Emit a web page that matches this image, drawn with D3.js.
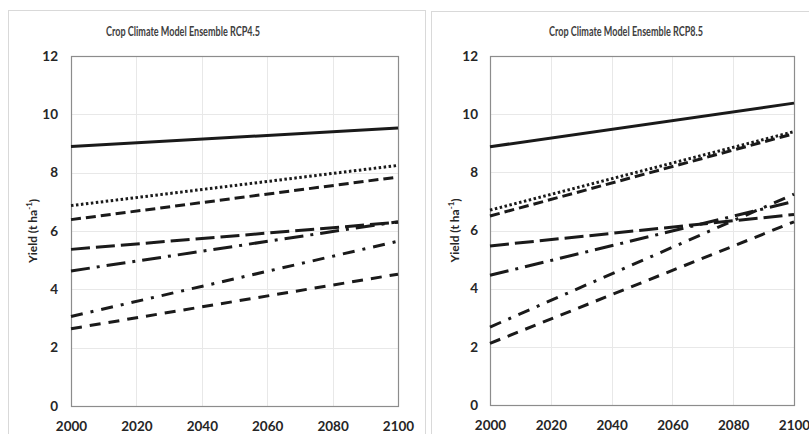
<!DOCTYPE html>
<html>
<head>
<meta charset="utf-8">
<script src="https://cdn.jsdelivr.net/npm/d3@7"></script>
<style>
  html, body { margin: 0; padding: 0; background: #fff; }
  svg { display: block; }
</style>
</head>
<body>
<svg id="chart" width="809" height="434"></svg>
<script>
// ---- data ----
const years = [2000, 2100];
const xTicks = [2000, 2020, 2040, 2060, 2080, 2100];
const yTicks = [0, 2, 4, 6, 8, 10, 12];
const titles = ["Crop Climate Model Ensemble RCP4.5", "Crop Climate Model Ensemble RCP8.5"];
const yLabel = "Yield (t ha";
const seriesStyles = ["solid", "dotted", "dashed", "longdash", "longdashdot", "dashdot", "shortdash"];
// RCP4.5 start / end yields (t/ha)
const rcp45_solid       = [8.9, 9.53];
const rcp45_dotted      = [6.87, 8.25];
const rcp45_dashed      = [6.39, 7.85];
const rcp45_longdash    = [5.37, 6.3];
const rcp45_longdashdot = [4.63, 6.32];
const rcp45_dashdot     = [3.07, 5.65];
const rcp45_shortdash   = [2.65, 4.52];
// RCP8.5 start / end yields (t/ha)
const rcp85_solid       = [8.88, 10.38];
const rcp85_dotted      = [6.7, 9.4];
const rcp85_dashed      = [6.5, 9.33];
const rcp85_longdash    = [5.47, 6.55];
const rcp85_longdashdot = [4.46, 7.0];
const rcp85_dashdot     = [2.68, 7.25];
const rcp85_shortdash   = [2.12, 6.3];

const panelsData = [
  [rcp45_solid, rcp45_dotted, rcp45_dashed, rcp45_longdash, rcp45_longdashdot, rcp45_dashdot, rcp45_shortdash],
  [rcp85_solid, rcp85_dotted, rcp85_dashed, rcp85_longdash, rcp85_longdashdot, rcp85_dashdot, rcp85_shortdash]
];

// ---- styles ----
const dashMap = {
  solid: null,
  dotted: "2.5 2.5",
  dashed: "10 5",
  longdash: "19 6",
  longdashdot: "19 7 3 7",
  dashdot: "12 8 3 8",
  shortdash: "11 8"
};
const layout = [
  { box: [8, 10, 417, 440], plot: { l: 71, r: 398, t: 56, b: 406 }, titleX: 183, ylabX: 33, tickRight: 58 },
  { box: [431, 11, 390, 440], plot: { l: 490, r: 794, t: 56, b: 405 }, titleX: 626, ylabX: 455, tickRight: 478 }
];
const FONT = "Lato, 'Open Sans', 'DejaVu Sans', sans-serif";

const svg = d3.select("#chart");

layout.forEach((L, i) => {
  const g = svg.append("g");
  // panel border
  g.append("rect")
    .attr("x", L.box[0] + 0.5).attr("y", L.box[1] + 0.5)
    .attr("width", L.box[2]).attr("height", L.box[3])
    .attr("fill", "#fff").attr("stroke", "#d9d9d9").attr("stroke-width", 1);

  const x = d3.scaleLinear().domain([2000, 2100]).range([L.plot.l, L.plot.r]);
  const y = d3.scaleLinear().domain([0, 12]).range([L.plot.b, L.plot.t]);

  // gridlines
  g.append("g").selectAll("line.h").data(yTicks).join("line")
    .attr("x1", L.plot.l).attr("x2", L.plot.r)
    .attr("y1", d => Math.round(y(d)) + 0.5).attr("y2", d => Math.round(y(d)) + 0.5)
    .attr("stroke", "#e8e8e8").attr("stroke-width", 1);
  g.append("g").selectAll("line.v").data(xTicks).join("line")
    .attr("y1", L.plot.t).attr("y2", L.plot.b)
    .attr("x1", d => Math.round(x(d)) + 0.5).attr("x2", d => Math.round(x(d)) + 0.5)
    .attr("stroke", "#e8e8e8").attr("stroke-width", 1);

  // plot frame
  g.append("rect")
    .attr("x", L.plot.l + 0.5).attr("y", L.plot.t + 0.5)
    .attr("width", L.plot.r - L.plot.l).attr("height", L.plot.b - L.plot.t)
    .attr("fill", "none").attr("stroke", "#8c8c8c").attr("stroke-width", 1.2);

  // axes
  const xAxis = g.append("g")
    .attr("transform", `translate(0,${L.plot.b})`)
    .call(d3.axisBottom(x).tickValues(xTicks).tickFormat(d3.format("d")).tickSize(0).tickPadding(15));
  const yAxis = g.append("g")
    .attr("transform", `translate(${L.tickRight},0)`)
    .call(d3.axisLeft(y).tickValues(yTicks).tickSize(0).tickPadding(0));
  [xAxis, yAxis].forEach(a => {
    a.select(".domain").remove();
    a.selectAll("text")
      .attr("font-family", FONT).attr("font-size", 13.5).attr("font-weight", 700)
      .attr("fill", "#262626");
  });

  // lines
  const line = d3.line().x(d => x(d[0])).y(d => y(d[1]));
  panelsData[i].forEach((vals, k) => {
    const pts = years.map((yr, j) => [yr, vals[j]]);
    const st = seriesStyles[k];
    g.append("path")
      .datum(pts)
      .attr("d", line)
      .attr("fill", "none")
      .attr("stroke", "#1a1a1a")
      .attr("stroke-width", 3)
      .attr("stroke-dasharray", dashMap[st]);
  });

  // title
  g.append("text")
    .attr("x", L.titleX).attr("y", 36)
    .attr("text-anchor", "middle")
    .attr("font-family", FONT).attr("font-size", 12.5).attr("font-weight", 700)
    .attr("fill", "#404040")
    .attr("textLength", 154).attr("lengthAdjust", "spacingAndGlyphs")
    .text(titles[i]);

  // y label
  const yl = g.append("text")
    .attr("transform", `translate(${L.ylabX},${(L.plot.t + L.plot.b) / 2}) rotate(-90)`)
    .attr("text-anchor", "middle")
    .attr("dy", "0.35em")
    .attr("font-family", FONT).attr("font-size", 12).attr("font-weight", 700)
    .attr("fill", "#262626");
  yl.append("tspan").text(yLabel);
  yl.append("tspan").attr("font-size", 8).attr("dy", "-0.6em").text("-1");
  yl.append("tspan").attr("dy", "0.45em").text(")");
});
</script>
</body>
</html>
